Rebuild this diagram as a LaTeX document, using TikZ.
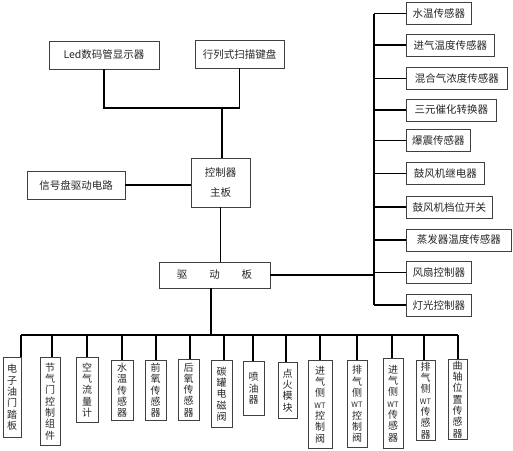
\documentclass[tikz,border=0pt]{standalone}
\usepackage{fontspec}
\setmainfont{Noto Sans CJK SC}
\begin{document}
\begin{tikzpicture}[x=1pt,y=-1pt,
  box/.style={draw=black!75, line width=0.8pt, inner sep=0pt, text=black!85,
    font=\fontsize{10.5}{12}\selectfont},
  rbox/.style={box, anchor=west, minimum height=22pt},
  vbox/.style={box, anchor=north, align=center, font=\fontsize{10}{11.3}\selectfont},
  bus/.style={line width=2.6pt},
  wire/.style={line width=1.8pt},
  thin wire/.style={line width=1.6pt}]
\useasboundingbox (0,0) rectangle (513,450);

% top boxes
\node[box, minimum width=110pt, minimum height=28pt] (led) at (104,55) {Led数码管显示器};
\node[box, minimum width=89pt, minimum height=28pt] (kb) at (239.5,54) {行列式扫描键盘};
\node[box, minimum width=59pt, minimum height=49pt, align=center,
  font=\fontsize{10.5}{20}\selectfont] (ctrl) at (220.5,182.5) {控制器\\主板};
\node[box, minimum width=98pt, minimum height=28pt] (sig) at (76,185) {信号盘驱动电路};
\node[box, minimum width=111pt, minimum height=26pt] (drv) at (214.5,275) {驱\hspace{22pt}动\hspace{22pt}板};

% top connectors
\coordinate (j1) at (222,108);
\draw[thin wire] (led.south) |- (j1) -| (kb.south);
\draw[thin wire] (j1) -- (j1 |- ctrl.north);
\draw[thin wire] (sig.east) -- (ctrl.west |- sig.east);
\draw[thin wire] (ctrl.south) -- (ctrl.south |- drv.north);

% right boxes
\node[rbox, minimum width=65pt]  (r1)  at (406,13.5)  {水温传感器};
\node[rbox, minimum width=88pt]  (r2)  at (406,45)    {进气温度传感器};
\node[rbox, minimum width=101pt] (r3)  at (406,78.5)  {混合气浓度传感器};
\node[rbox, minimum width=90pt]  (r4)  at (406,110)   {三元催化转换器};
\node[rbox, minimum width=64pt]  (r5)  at (406,140.5) {爆震传感器};
\node[rbox, minimum width=78pt]  (r6)  at (406,173.5) {鼓风机继电器};
\node[rbox, minimum width=86pt]  (r7)  at (406,207)   {鼓风机档位开关};
\node[rbox, minimum width=105pt] (r8)  at (406,240)   {蒸发器温度传感器};
\node[rbox, minimum width=65pt]  (r9)  at (406,272.5) {风扇控制器};
\node[rbox, minimum width=65pt]  (r10) at (406,305)   {灯光控制器};

\coordinate (rt) at (374,13.5);
\coordinate (rb) at (374,305);
\draw[bus] (rt) -- (rb);
\foreach \i in {1,...,10} { \draw[wire] (rt |- r\i.west) -- (r\i.west); }
\draw[bus] (drv.east) -- (drv.east -| rt);

% bottom boxes
\newcommand{\wt}{{\fontsize{7.5}{8}\selectfont WT}}
\node[vbox, minimum width=18pt, minimum height=80pt] (e1)  at (12,357)    {电\\子\\油\\门\\踏\\板};
\node[vbox, minimum width=20pt, minimum height=88pt] (e2)  at (50,357)    {节\\气\\门\\控\\制\\组\\件};
\node[vbox, minimum width=22pt, minimum height=65pt] (e3)  at (87,357)    {空\\气\\流\\量\\计};
\node[vbox, minimum width=22pt, minimum height=60pt] (e4)  at (122,360)   {水\\温\\传\\感\\器};
\node[vbox, minimum width=21pt, minimum height=60pt] (e5)  at (155.5,360) {前\\氧\\传\\感\\器};
\node[vbox, minimum width=21pt, minimum height=61pt] (e6)  at (188.5,359) {后\\氧\\传\\感\\器};
\node[vbox, minimum width=21pt, minimum height=67pt] (e7)  at (221.5,360) {碳\\罐\\电\\磁\\阀};
\node[vbox, minimum width=21pt, minimum height=54pt] (e8)  at (253.5,361) {喷\\油\\器};
\node[vbox, minimum width=19pt, minimum height=56pt] (e9)  at (287.5,362) {点\\火\\模\\块};
\node[vbox, minimum width=24pt, minimum height=88pt] (e10) at (320,360)   {进\\气\\侧\\\wt\\控\\制\\阀};
\node[vbox, minimum width=20pt, minimum height=87pt] (e11) at (357,360)   {排\\气\\侧\\\wt\\控\\制\\阀};
\node[vbox, minimum width=20pt, minimum height=90pt] (e12) at (393,358)   {进\\气\\侧\\\wt\\传\\感\\器};
\node[vbox, minimum width=19pt, minimum height=80pt] (e13) at (425.5,360) {排\\气\\侧\\\wt\\传\\感\\器};
\node[vbox, minimum width=19pt, minimum height=80pt] (e14) at (457.5,359) {曲\\轴\\位\\置\\传\\感\\器};

\foreach \i/\x in {1/21,2/52,3/87,4/122,5/156,6/190,7/224,8/253,9/286,10/320,11/357,12/392,13/424,14/458}
  { \coordinate (b\i) at (\x,335); }
\coordinate (dd) at (211,335);
\draw[bus] (b1) -- (b14);
\draw[bus] (drv.south -| dd) -- (dd);
\foreach \i in {1,...,14} { \draw[wire] (b\i) -- (b\i |- e\i.north); }
\end{tikzpicture}
\end{document}
